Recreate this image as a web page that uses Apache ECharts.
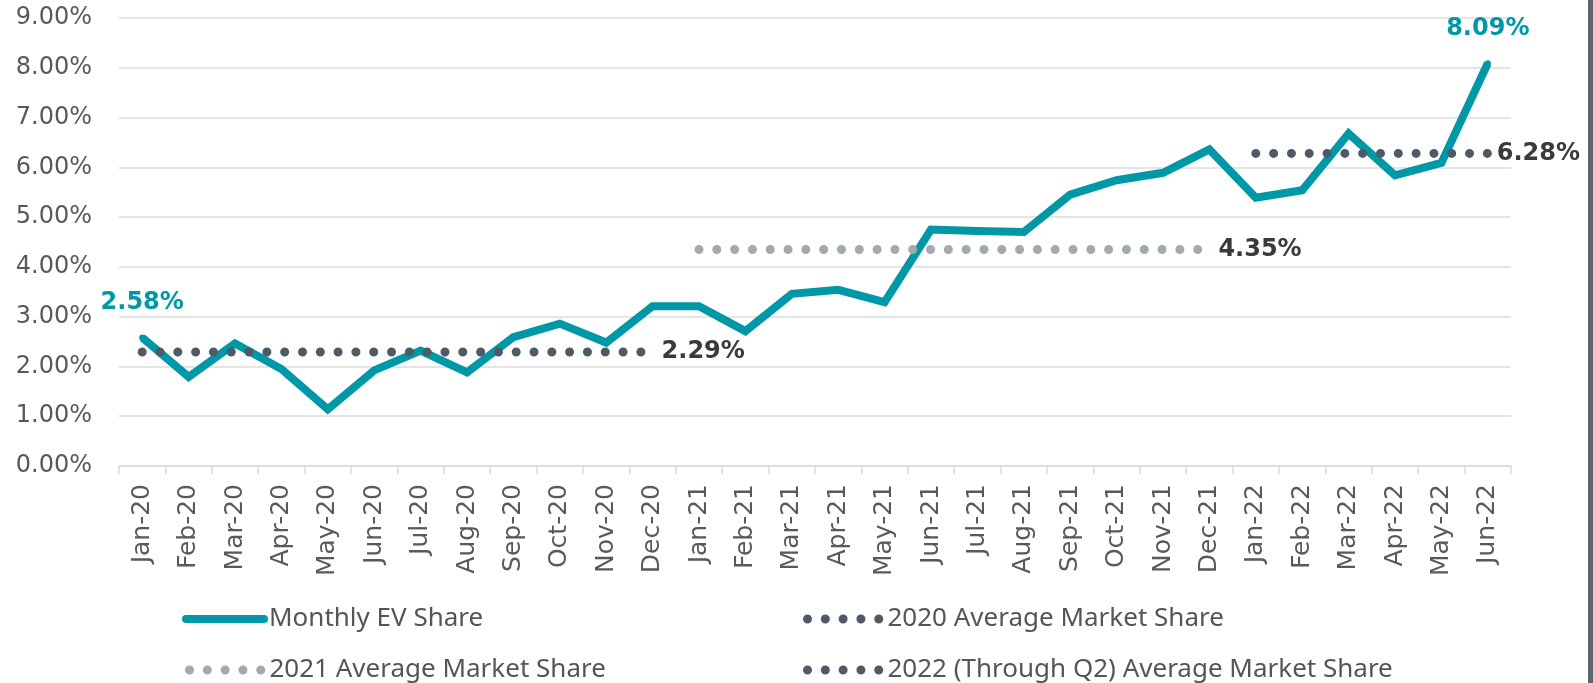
<!DOCTYPE html>
<html>
<head>
<meta charset="utf-8">
<script src="https://cdn.jsdelivr.net/npm/echarts@6/dist/echarts.min.js"></script>
<style>
  html, body { margin: 0; padding: 0; background: #fff; }
  #chart { width: 1593px; height: 683px; }
</style>
</head>
<body>
<div id="chart"></div>
<script>
const months = ['Jan-20', 'Feb-20', 'Mar-20', 'Apr-20', 'May-20', 'Jun-20', 'Jul-20', 'Aug-20', 'Sep-20', 'Oct-20', 'Nov-20', 'Dec-20',
  'Jan-21', 'Feb-21', 'Mar-21', 'Apr-21', 'May-21', 'Jun-21', 'Jul-21', 'Aug-21', 'Sep-21', 'Oct-21', 'Nov-21', 'Dec-21',
  'Jan-22', 'Feb-22', 'Mar-22', 'Apr-22', 'May-22', 'Jun-22']
const evShare = [2.58, 1.79, 2.46, 1.95, 1.14, 1.92, 2.32, 1.88, 2.59, 2.86, 2.48, 3.21,
  3.21, 2.71, 3.46, 3.54, 3.29, 4.75, 4.72, 4.70, 5.45, 5.74, 5.89, 6.36,
  5.39, 5.54, 6.68, 5.84, 6.09, 8.09]
const yearAvg = [2.29, 4.35, 6.28]
const avgNames = ['2020 Average Market Share', '2021 Average Market Share', '2022 (Through Q2) Average Market Share']
const avgColors = ['#4e5b66', '#a3aaae', '#4e5b66']

const teal = '#0097a7'
const axisFont = 'DejaVu Sans'

// one series per year, only that year's months carry the average
function avgData (yearIdx) {
  return months.map(function (m, i) {
    return Math.floor(i / 12) === yearIdx ? yearAvg[yearIdx] : '-'
  })
}

// only first and last point get a value label
const evData = evShare.map(function (v, i) {
  if (i === 0 || i === evShare.length - 1) {
    return { value: v, label: { show: true } }
  }
  return v
})

const series = [
  {
    name: 'Monthly EV Share',
    type: 'line',
    data: evData,
    symbol: 'circle',
    symbolSize: 6,
    showSymbol: true,
    color: teal,
    itemStyle: { color: teal },
    lineStyle: { color: teal, width: 8, join: 'miter' },
    label: {
      show: false,
      position: 'top',
      distance: 20,
      formatter: function (p) { return p.value.toFixed(2) + '%' },
      color: teal,
      fontFamily: axisFont,
      fontWeight: 'bold',
      fontSize: 24
    },
    z: 2
  }
]
yearAvg.forEach(function (v, k) {
  series.push({
    name: avgNames[k],
    type: 'line',
    data: avgData(k),
    symbol: 'none',
    color: avgColors[k],
    lineStyle: { color: avgColors[k], width: 9, type: [0.01, 17.8], cap: 'round' },
    endLabel: {
      show: true,
      distance: 9,
      formatter: v.toFixed(2) + '%',
      color: '#3a3a3a',
      fontFamily: axisFont,
      fontWeight: 'bold',
      fontSize: 24
    },
    z: 3
  })
})

function legendAt (name, left, top, iconWidth, lineWidth) {
  return {
    data: [name],
    left: left,
    top: top,
    padding: 0,
    itemWidth: iconWidth,
    itemHeight: 14,
    selectedMode: false,
    itemStyle: { opacity: 0 },
    lineStyle: { width: lineWidth, cap: 'round' },
    textStyle: { fontFamily: 'Noto Sans', fontSize: 26, color: '#555' }
  }
}

const chart = echarts.init(document.getElementById('chart'))
chart.setOption({
  backgroundColor: '#fff',
  animation: false,
  grid: { left: 119, right: 82, top: 18, bottom: 217, containLabel: false },
  xAxis: {
    type: 'category',
    data: months,
    boundaryGap: true,
    axisLine: { lineStyle: { color: '#d9d9d9', width: 1.5 } },
    axisTick: { show: true, length: 8, lineStyle: { color: '#d9d9d9', width: 1.5 } },
    axisLabel: {
      rotate: 90,
      interval: 0,
      margin: 18,
      color: '#595959',
      fontFamily: axisFont,
      fontSize: 25
    }
  },
  yAxis: {
    type: 'value',
    min: 0,
    max: 9,
    interval: 1,
    axisLine: { show: false },
    axisTick: { show: false },
    splitLine: { lineStyle: { color: '#dcdcdc', width: 1.5 } },
    axisLabel: {
      margin: 27,
      color: '#595959',
      fontFamily: axisFont,
      fontSize: 24,
      formatter: function (v) { return v.toFixed(2) + '%' }
    }
  },
  legend: [
    legendAt('Monthly EV Share', 182, 606, 78, 8),
    legendAt(avgNames[0], 803, 606, 75, 9),
    legendAt(avgNames[1], 185, 657, 75, 9),
    legendAt(avgNames[2], 803, 657, 75, 9)
  ],
  graphic: [
    { type: 'rect', right: 0, top: 0, shape: { width: 5, height: 683 }, style: { fill: '#5b656e' } }
  ],
  series: series
})
</script>
</body>
</html>
